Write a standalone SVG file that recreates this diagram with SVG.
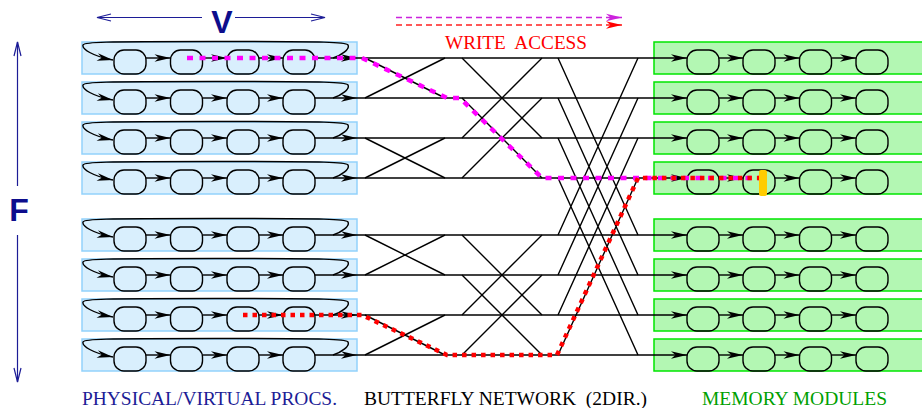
<svg xmlns="http://www.w3.org/2000/svg" width="922" height="408" viewBox="0 0 922 408">
<style>
.pbox{fill:#d9effd;stroke:#92d2fb;stroke-width:1.5}
.mbox{fill:#b3f7b3;stroke:#00e600;stroke-width:1.5}
.nd{fill:none;stroke:#000;stroke-width:1.4}
.ln{fill:none;stroke:#000;stroke-width:1.4}
.ar{fill:none;stroke:#000;stroke-width:1.4;marker-end:url(#ah)}
.blue{fill:none;stroke:#1c1c96;stroke-width:1.2;marker-end:url(#oh)}
.lbl{font-family:"Liberation Serif","Times New Roman",serif;font-size:19.3px}
.big{font-family:"Liberation Sans",Arial,sans-serif;font-weight:bold;font-size:32px;fill:#0d0d8c}
</style>
<defs>
<marker id="ah" markerUnits="userSpaceOnUse" viewBox="-17 -5 18 10" markerWidth="18" markerHeight="10" refX="0" refY="0" orient="auto"><path d="M0,0 L-16,-3.8 L-11.5,0 L-16,3.8 Z" fill="#000"/></marker>
<marker id="ahm" markerUnits="userSpaceOnUse" viewBox="-17 -5 18 10" markerWidth="18" markerHeight="10" refX="0" refY="0" orient="auto"><path d="M0,0 L-16,-3.8 L-11.5,0 L-16,3.8 Z" fill="#cc22dd"/></marker>
<marker id="ahr" markerUnits="userSpaceOnUse" viewBox="-17 -5 18 10" markerWidth="18" markerHeight="10" refX="0" refY="0" orient="auto"><path d="M0,0 L-16,-3.8 L-11.5,0 L-16,3.8 Z" fill="#ff0000"/></marker>
<marker id="oh" markerUnits="userSpaceOnUse" viewBox="-15 -5 16 10" markerWidth="16" markerHeight="10" refX="0" refY="0" orient="auto"><path d="M-14,-3.5 L0,0 L-14,3.5" fill="none" stroke="#1c1c96" stroke-width="1.2"/></marker>
</defs>
<rect width="922" height="408" fill="#fff"/>

<!-- processor rows -->
<g id="proc0" transform="translate(0,58)"><rect class="pbox" x="82" y="-16" width="275" height="32"/><rect class="nd" x="114" y="-8" width="32" height="24" rx="10"/><rect class="nd" x="170.5" y="-8" width="32" height="24" rx="10"/><rect class="nd" x="227" y="-8" width="32" height="24" rx="10"/><rect class="nd" x="283" y="-8" width="32" height="24" rx="10"/><path class="ar" d="M146,0H170.5"/><path class="ar" d="M202.5,0H227"/><path class="ar" d="M259,0H283"/><path class="ar" d="M333,0 C342,-3 350,-9 348,-13 C346,-16 330,-16.5 215,-16.5 C100,-16.5 84,-16 83,-13 C82,-9 92,-2 113,2"/></g>
<g id="proc1" transform="translate(0,98)"><rect class="pbox" x="82" y="-16" width="275" height="32"/><rect class="nd" x="114" y="-8" width="32" height="24" rx="10"/><rect class="nd" x="170.5" y="-8" width="32" height="24" rx="10"/><rect class="nd" x="227" y="-8" width="32" height="24" rx="10"/><rect class="nd" x="283" y="-8" width="32" height="24" rx="10"/><path class="ar" d="M146,0H170.5"/><path class="ar" d="M202.5,0H227"/><path class="ar" d="M259,0H283"/><path class="ar" d="M333,0 C342,-3 350,-9 348,-13 C346,-16 330,-16.5 215,-16.5 C100,-16.5 84,-16 83,-13 C82,-9 92,-2 113,2"/></g>
<g id="proc2" transform="translate(0,138)"><rect class="pbox" x="82" y="-16" width="275" height="32"/><rect class="nd" x="114" y="-8" width="32" height="24" rx="10"/><rect class="nd" x="170.5" y="-8" width="32" height="24" rx="10"/><rect class="nd" x="227" y="-8" width="32" height="24" rx="10"/><rect class="nd" x="283" y="-8" width="32" height="24" rx="10"/><path class="ar" d="M146,0H170.5"/><path class="ar" d="M202.5,0H227"/><path class="ar" d="M259,0H283"/><path class="ar" d="M333,0 C342,-3 350,-9 348,-13 C346,-16 330,-16.5 215,-16.5 C100,-16.5 84,-16 83,-13 C82,-9 92,-2 113,2"/></g>
<g id="proc3" transform="translate(0,178)"><rect class="pbox" x="82" y="-16" width="275" height="32"/><rect class="nd" x="114" y="-8" width="32" height="24" rx="10"/><rect class="nd" x="170.5" y="-8" width="32" height="24" rx="10"/><rect class="nd" x="227" y="-8" width="32" height="24" rx="10"/><rect class="nd" x="283" y="-8" width="32" height="24" rx="10"/><path class="ar" d="M146,0H170.5"/><path class="ar" d="M202.5,0H227"/><path class="ar" d="M259,0H283"/><path class="ar" d="M333,0 C342,-3 350,-9 348,-13 C346,-16 330,-16.5 215,-16.5 C100,-16.5 84,-16 83,-13 C82,-9 92,-2 113,2"/></g>
<g id="proc4" transform="translate(0,235)"><rect class="pbox" x="82" y="-16" width="275" height="32"/><rect class="nd" x="114" y="-8" width="32" height="24" rx="10"/><rect class="nd" x="170.5" y="-8" width="32" height="24" rx="10"/><rect class="nd" x="227" y="-8" width="32" height="24" rx="10"/><rect class="nd" x="283" y="-8" width="32" height="24" rx="10"/><path class="ar" d="M146,0H170.5"/><path class="ar" d="M202.5,0H227"/><path class="ar" d="M259,0H283"/><path class="ar" d="M333,0 C342,-3 350,-9 348,-13 C346,-16 330,-16.5 215,-16.5 C100,-16.5 84,-16 83,-13 C82,-9 92,-2 113,2"/></g>
<g id="proc5" transform="translate(0,275)"><rect class="pbox" x="82" y="-16" width="275" height="32"/><rect class="nd" x="114" y="-8" width="32" height="24" rx="10"/><rect class="nd" x="170.5" y="-8" width="32" height="24" rx="10"/><rect class="nd" x="227" y="-8" width="32" height="24" rx="10"/><rect class="nd" x="283" y="-8" width="32" height="24" rx="10"/><path class="ar" d="M146,0H170.5"/><path class="ar" d="M202.5,0H227"/><path class="ar" d="M259,0H283"/><path class="ar" d="M333,0 C342,-3 350,-9 348,-13 C346,-16 330,-16.5 215,-16.5 C100,-16.5 84,-16 83,-13 C82,-9 92,-2 113,2"/></g>
<g id="proc6" transform="translate(0,315)"><rect class="pbox" x="82" y="-16" width="275" height="32"/><rect class="nd" x="114" y="-8" width="32" height="24" rx="10"/><rect class="nd" x="170.5" y="-8" width="32" height="24" rx="10"/><rect class="nd" x="227" y="-8" width="32" height="24" rx="10"/><rect class="nd" x="283" y="-8" width="32" height="24" rx="10"/><path class="ar" d="M146,0H170.5"/><path class="ar" d="M202.5,0H227"/><path class="ar" d="M259,0H283"/><path class="ar" d="M333,0 C342,-3 350,-9 348,-13 C346,-16 330,-16.5 215,-16.5 C100,-16.5 84,-16 83,-13 C82,-9 92,-2 113,2"/></g>
<g id="proc7" transform="translate(0,355)"><rect class="pbox" x="82" y="-16" width="275" height="32"/><rect class="nd" x="114" y="-8" width="32" height="24" rx="10"/><rect class="nd" x="170.5" y="-8" width="32" height="24" rx="10"/><rect class="nd" x="227" y="-8" width="32" height="24" rx="10"/><rect class="nd" x="283" y="-8" width="32" height="24" rx="10"/><path class="ar" d="M146,0H170.5"/><path class="ar" d="M202.5,0H227"/><path class="ar" d="M259,0H283"/><path class="ar" d="M333,0 C342,-3 350,-9 348,-13 C346,-16 330,-16.5 215,-16.5 C100,-16.5 84,-16 83,-13 C82,-9 92,-2 113,2"/></g>

<!-- memory modules -->
<g id="mem0" transform="translate(0,58)"><rect class="mbox" x="654" y="-16" width="275" height="32"/><rect class="nd" x="687" y="-8" width="32" height="24" rx="10"/><rect class="nd" x="743" y="-8" width="32" height="24" rx="10"/><rect class="nd" x="799.5" y="-8" width="32" height="24" rx="10"/><rect class="nd" x="856" y="-8" width="32" height="24" rx="10"/><path class="ar" d="M719,0H743"/><path class="ar" d="M775,0H799.5"/><path class="ar" d="M831.5,0H856"/></g>
<g id="mem1" transform="translate(0,98)"><rect class="mbox" x="654" y="-16" width="275" height="32"/><rect class="nd" x="687" y="-8" width="32" height="24" rx="10"/><rect class="nd" x="743" y="-8" width="32" height="24" rx="10"/><rect class="nd" x="799.5" y="-8" width="32" height="24" rx="10"/><rect class="nd" x="856" y="-8" width="32" height="24" rx="10"/><path class="ar" d="M719,0H743"/><path class="ar" d="M775,0H799.5"/><path class="ar" d="M831.5,0H856"/></g>
<g id="mem2" transform="translate(0,138)"><rect class="mbox" x="654" y="-16" width="275" height="32"/><rect class="nd" x="687" y="-8" width="32" height="24" rx="10"/><rect class="nd" x="743" y="-8" width="32" height="24" rx="10"/><rect class="nd" x="799.5" y="-8" width="32" height="24" rx="10"/><rect class="nd" x="856" y="-8" width="32" height="24" rx="10"/><path class="ar" d="M719,0H743"/><path class="ar" d="M775,0H799.5"/><path class="ar" d="M831.5,0H856"/></g>
<g id="mem3" transform="translate(0,178)"><rect class="mbox" x="654" y="-16" width="275" height="32"/><rect class="nd" x="687" y="-8" width="32" height="24" rx="10"/><rect class="nd" x="743" y="-8" width="32" height="24" rx="10"/><rect class="nd" x="799.5" y="-8" width="32" height="24" rx="10"/><rect class="nd" x="856" y="-8" width="32" height="24" rx="10"/><path class="ar" d="M719,0H743"/><path class="ar" d="M775,0H799.5"/><path class="ar" d="M831.5,0H856"/></g>
<g id="mem4" transform="translate(0,235)"><rect class="mbox" x="654" y="-16" width="275" height="32"/><rect class="nd" x="687" y="-8" width="32" height="24" rx="10"/><rect class="nd" x="743" y="-8" width="32" height="24" rx="10"/><rect class="nd" x="799.5" y="-8" width="32" height="24" rx="10"/><rect class="nd" x="856" y="-8" width="32" height="24" rx="10"/><path class="ar" d="M719,0H743"/><path class="ar" d="M775,0H799.5"/><path class="ar" d="M831.5,0H856"/></g>
<g id="mem5" transform="translate(0,275)"><rect class="mbox" x="654" y="-16" width="275" height="32"/><rect class="nd" x="687" y="-8" width="32" height="24" rx="10"/><rect class="nd" x="743" y="-8" width="32" height="24" rx="10"/><rect class="nd" x="799.5" y="-8" width="32" height="24" rx="10"/><rect class="nd" x="856" y="-8" width="32" height="24" rx="10"/><path class="ar" d="M719,0H743"/><path class="ar" d="M775,0H799.5"/><path class="ar" d="M831.5,0H856"/></g>
<g id="mem6" transform="translate(0,315)"><rect class="mbox" x="654" y="-16" width="275" height="32"/><rect class="nd" x="687" y="-8" width="32" height="24" rx="10"/><rect class="nd" x="743" y="-8" width="32" height="24" rx="10"/><rect class="nd" x="799.5" y="-8" width="32" height="24" rx="10"/><rect class="nd" x="856" y="-8" width="32" height="24" rx="10"/><path class="ar" d="M719,0H743"/><path class="ar" d="M775,0H799.5"/><path class="ar" d="M831.5,0H856"/></g>
<g id="mem7" transform="translate(0,355)"><rect class="mbox" x="654" y="-16" width="275" height="32"/><rect class="nd" x="687" y="-8" width="32" height="24" rx="10"/><rect class="nd" x="743" y="-8" width="32" height="24" rx="10"/><rect class="nd" x="799.5" y="-8" width="32" height="24" rx="10"/><rect class="nd" x="856" y="-8" width="32" height="24" rx="10"/><path class="ar" d="M719,0H743"/><path class="ar" d="M775,0H799.5"/><path class="ar" d="M831.5,0H856"/></g>

<!-- butterfly network connectors -->
<g id="connectors">
<path class="ar" d="M315,58H357"/><path class="ar" d="M315,98H357"/><path class="ar" d="M315,138H357"/><path class="ar" d="M315,178H357"/>
<path class="ar" d="M315,235H357"/><path class="ar" d="M315,275H357"/><path class="ar" d="M315,315H357"/><path class="ar" d="M315,355H357"/>
<path class="ar" d="M357,58H687"/><path class="ar" d="M357,98H687"/><path class="ar" d="M357,138H687"/><path class="ar" d="M357,178H687"/>
<path class="ar" d="M357,235H687"/><path class="ar" d="M357,275H687"/><path class="ar" d="M357,315H687"/><path class="ar" d="M357,355H687"/>
<path class="ln" d="M365,58L445,98M365,98L445,58M365,138L445,178M365,178L445,138M365,235L445,275M365,275L445,235M365,315L445,355M365,355L445,315"/>
<path class="ln" d="M462,58L542,138M462,138L542,58M462,98L542,178M462,178L542,98M462,235L542,315M462,315L542,235M462,275L542,355M462,355L542,275"/>
<path class="ln" d="M558,58L638,235M558,235L638,58M558,98L638,275M558,275L638,98M558,138L638,315M558,315L638,138M558,178L638,355M558,355L638,178"/>
</g>

<!-- access paths -->
<g id="paths">
<path d="M187,58H362L447,98H460L542,178H762" fill="none" stroke="#ff00ff" stroke-width="4.5" stroke-dasharray="6 6.5"/>
<path d="M243,315H362L447,355H557L638,178H762" fill="none" stroke="#ff0000" stroke-width="4.5" stroke-dasharray="4.5 5"/>
<rect x="759" y="170" width="8" height="26" rx="2" fill="#ffcc00"/>
</g>

<!-- legend -->
<g id="legend">
<path d="M396,17.5H622" fill="none" stroke="#cc22dd" stroke-width="1.4" stroke-dasharray="6 4" marker-end="url(#ahm)"/>
<path d="M396,25H622" fill="none" stroke="#ff2020" stroke-width="1.4" stroke-dasharray="6 4" marker-end="url(#ahr)"/>
<text class="lbl" x="445" y="49" fill="#ff0000" textLength="142" lengthAdjust="spacingAndGlyphs" xml:space="preserve">WRITE  ACCESS</text>
</g>

<!-- dimension arrows -->
<g id="dims">
<path class="blue" d="M202,17.5H97"/>
<path class="blue" d="M235,17.5H325"/>
<text class="big" x="222" y="33" text-anchor="middle">V</text>
<path class="blue" d="M17.5,186V42"/>
<path class="blue" d="M17.5,235V382"/>
<text class="big" x="19" y="221" text-anchor="middle">F</text>
</g>

<!-- labels -->
<g id="labels">
<text class="lbl" x="82" y="405" fill="#1c1c96" textLength="255" lengthAdjust="spacingAndGlyphs">PHYSICAL/VIRTUAL PROCS.</text>
<text class="lbl" x="364" y="405" fill="#000" textLength="283" lengthAdjust="spacingAndGlyphs" xml:space="preserve">BUTTERFLY NETWORK  (2DIR.)</text>
<text class="lbl" x="702" y="405" fill="#00a000" textLength="185" lengthAdjust="spacingAndGlyphs">MEMORY MODULES</text>
</g>
</svg>
